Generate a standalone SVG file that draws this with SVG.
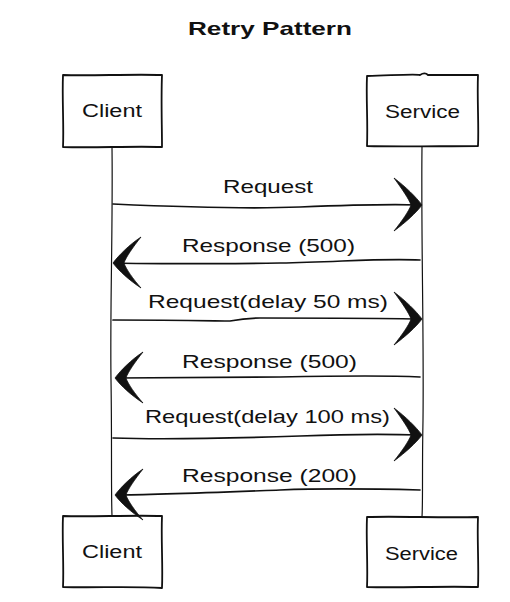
<svg xmlns="http://www.w3.org/2000/svg" xmlns:xlink="http://www.w3.org/1999/xlink" width="510" height="602" viewBox="0 0 510 602">
<style>
.bg{fill:#ffffff}
.box{fill:#ffffff;stroke:#111;stroke-width:1.8;stroke-linejoin:round}
.line{fill:none;stroke:#111;stroke-width:1.7;stroke-linecap:round}
.life{fill:none;stroke:#111;stroke-width:1.2}
.head{fill:#111;stroke:#111;stroke-width:0.8;stroke-linejoin:round}
text{font-family:"Liberation Sans","DejaVu Sans",sans-serif;fill:#111;text-anchor:start}
.lbl{font-size:19px}
.node{font-size:18px}
.title{font-size:19px;font-weight:bold}
</style>
<defs>
<path id="headR" class="head" d="M0,0 C-6,-8 -16,-18 -28,-27 C-20,-16 -13,-6 -11,0 C-13,6 -20,16 -28,26 C-16,17 -6,8 0,0 Z"/>
<path id="headL" class="head" d="M0,0 C6,-8 16,-18 28,-26 C20,-16 13,-6 11,0 C13,6 20,16 28,25 C16,17 6,8 0,0 Z"/>
</defs>
<rect class="bg" x="0" y="0" width="510" height="602"/>
<text class="title" x="188" y="35" textLength="164" lengthAdjust="spacingAndGlyphs">Retry Pattern</text>

<g id="lifelines">
<path class="life" d="M112,147 C113,230 110,300 111,380 C112,440 111,490 112,516"/>
<path class="life" d="M422,146 C421,240 424,330 423,420 C422,470 423,500 422,517"/>
</g>

<g id="client-top">
<path class="box" d="M63,75 C90,76 130,74 162,75 C161,100 162,125 162,147 C130,146 95,148 63,147 C64,125 62,100 63,75 Z"/>
<text class="node" x="82" y="117" textLength="60" lengthAdjust="spacingAndGlyphs">Client</text>
</g>
<g id="service-top">
<path class="box" d="M367,76 C400,75 415,74 420,75 C423,73 426,73 428,75 C450,75 465,75 478,75 C477,100 479,125 478,146 C440,146 400,147 367,146 C368,120 366,100 367,76 Z"/>
<text class="node" x="385" y="118" textLength="75" lengthAdjust="spacingAndGlyphs">Service</text>
</g>
<g id="client-bottom">
<path class="box" d="M63,516 C90,517 130,515 162,516 C161,540 163,565 162,588 C130,586 95,588 63,587 C64,565 62,540 63,516 Z"/>
<text class="node" x="82" y="558" textLength="60" lengthAdjust="spacingAndGlyphs">Client</text>
</g>
<g id="service-bottom">
<path class="box" d="M367,517 C400,516 440,518 478,517 C477,540 479,565 478,587 C440,586 400,588 367,587 C368,565 366,540 367,517 Z"/>
<text class="node" x="385" y="560" textLength="73" lengthAdjust="spacingAndGlyphs">Service</text>
</g>

<g id="connectors">
<g id="m1">
<path class="line" d="M113,204 C180,207 250,209 300,207 C350,205 390,204 420,205"/>
<use xlink:href="#headR" href="#headR" x="422" y="205"/>
<text class="lbl" x="223" y="193" textLength="90" lengthAdjust="spacingAndGlyphs">Request</text>
</g>
<g id="m2">
<path class="line" d="M420,260 C380,258 340,262 280,263 C200,264 150,264 115,263"/>
<use xlink:href="#headL" href="#headL" x="113" y="263"/>
<text class="lbl" x="182" y="252" textLength="173" lengthAdjust="spacingAndGlyphs">Response (500)</text>
</g>
<g id="m3">
<path class="line" d="M113,320 C180,320 220,321 230,321 C240,319 245,318 260,318 C330,318 380,318 420,319"/>
<use xlink:href="#headR" href="#headR" x="422" y="319"/>
<text class="lbl" x="148" y="308" textLength="240" lengthAdjust="spacingAndGlyphs">Request(delay 50 ms)</text>
</g>
<g id="m4">
<path class="line" d="M420,377 C380,375 330,376 280,377 C200,378 150,378 117,378"/>
<use xlink:href="#headL" href="#headL" x="115" y="378"/>
<text class="lbl" x="182" y="368" textLength="175" lengthAdjust="spacingAndGlyphs">Response (500)</text>
</g>
<g id="m5">
<path class="line" d="M113,438 C170,440 240,438 300,436 C350,434 390,434 420,435"/>
<use xlink:href="#headR" href="#headR" x="422" y="435"/>
<text class="lbl" x="145" y="423" textLength="245" lengthAdjust="spacingAndGlyphs">Request(delay 100 ms)</text>
</g>
<g id="m6">
<path class="line" d="M420,490 C380,489 330,488 280,490 C200,493 150,495 117,495"/>
<use xlink:href="#headL" href="#headL" x="115" y="495"/>
<text class="lbl" x="182" y="482" textLength="175" lengthAdjust="spacingAndGlyphs">Response (200)</text>
</g>
</g>
</svg>
